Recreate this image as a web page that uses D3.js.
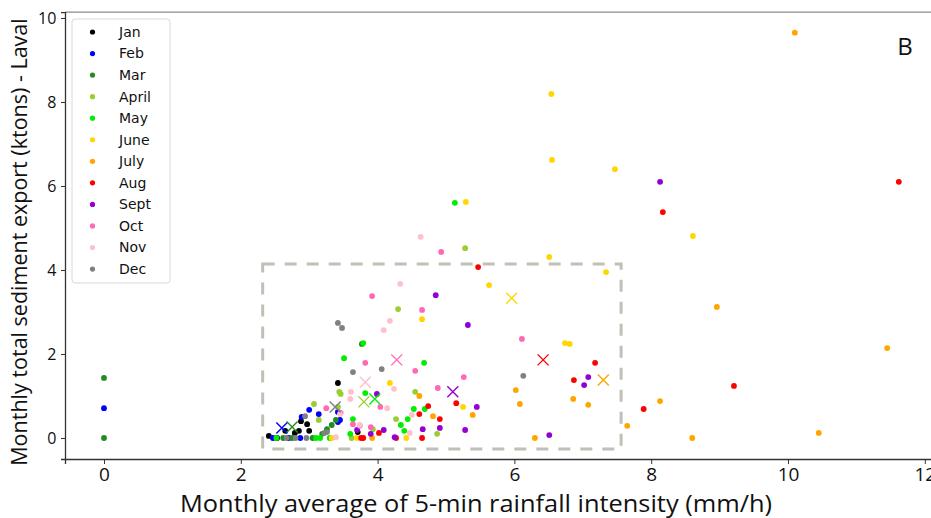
<!DOCTYPE html>
<html><head><meta charset="utf-8">
<script src="https://cdn.jsdelivr.net/npm/d3@7"></script>
<style>body{margin:0;background:#fff;} svg{display:block;}</style>
</head><body>
<svg id="c" width="931" height="518"></svg>
<script>
const months = ["Jan","Feb","Mar","April","May","June","July","Aug","Sept","Oct","Nov","Dec"];
const colors = ["#000000","#0000ff","#228b22","#9acd32","#00ee00","#ffd700","#ffa500","#ff0000","#9400d3","#ff69b4","#ffc0cb","#808080"];
const xTicks = [0,2,4,6,8,10,12];
const yTicks = [0,2,4,6,8,10];

const janPts = [[2.41,0.05],[2.53,0.0],[2.65,0.17],[2.79,0.12],[2.85,0.17],[3.00,0.17],[2.88,0.40],[2.97,0.33],[3.42,1.31],[3.71,0.14]];
const febPts = [[0,0.71],[3.00,0.67],[3.14,0.57],[3.42,0.62],[2.89,0.50],[3.42,0.38],[3.45,0.43],[2.47,0.0],[2.87,0.0],[2.70,0.0]];
const marPts = [[0,1.43],[0,0.0],[3.33,0.31],[3.26,0.21],[3.19,0.10],[3.77,2.24],[2.62,0.0],[2.75,0.0],[3.39,0.43],[3.05,0.0]];
const aprPts = [[3.07,0.81],[3.14,0.43],[3.44,1.10],[3.46,1.05],[3.42,0.74],[4.30,3.07],[4.55,1.10],[4.27,0.45],[4.87,0.10],[5.28,4.52],[3.93,0.21],[3.62,0.0]];
const mayPts = [[3.79,2.26],[3.51,1.90],[4.68,1.79],[3.82,1.07],[4.53,0.69],[4.69,0.69],[3.64,0.45],[4.44,0.45],[4.34,0.31],[4.39,0.17],[3.60,0.10],[5.13,5.60],[2.52,0.0],[3.10,0.0],[3.16,0.0],[3.30,0.0]];
const junPts = [[6.54,8.19],[6.55,6.62],[7.47,6.40],[8.61,4.81],[5.29,5.62],[6.51,4.31],[7.34,3.95],[5.63,3.64],[4.65,2.83],[6.74,2.26],[6.81,2.24],[4.18,1.31],[5.25,0.74],[4.42,0.0],[3.70,0.0],[3.33,0.0]];
const julPts = [[10.10,9.65],[8.96,3.12],[11.45,2.14],[8.13,0.88],[7.65,0.29],[8.60,0.0],[10.45,0.12],[6.02,1.14],[6.08,0.81],[6.86,0.93],[7.08,0.79],[6.30,0.0],[4.61,1.00],[4.81,0.52],[5.39,0.55],[3.92,0.0]];
const augPts = [[11.62,6.10],[8.17,5.38],[9.21,1.24],[7.89,0.69],[7.18,1.79],[6.87,1.38],[5.47,4.07],[5.15,0.83],[4.74,0.76],[4.61,0.57],[4.91,0.45],[4.02,0.12],[3.76,0.0],[3.79,0.0],[4.27,0.0],[4.65,0.0]];
const sepPts = [[8.13,6.10],[4.85,3.40],[5.32,2.69],[7.08,1.45],[7.02,1.26],[5.45,0.74],[4.91,0.24],[4.66,0.21],[5.28,0.19],[6.51,0.07],[3.99,1.05],[3.70,0.19],[3.90,0.10],[4.09,0.19],[4.25,0.02]];
const octPts = [[3.92,3.38],[4.65,3.05],[4.93,4.43],[3.82,1.79],[6.11,2.36],[4.55,1.60],[5.26,1.45],[4.88,1.19],[3.25,0.71],[3.46,0.60],[4.04,0.74],[3.64,0.33],[3.90,0.26],[3.74,0.29]];
const novPts = [[4.33,3.67],[4.63,4.79],[4.18,2.79],[4.09,2.57],[4.24,1.17],[3.61,1.10],[3.60,0.93],[4.14,0.71],[4.50,0.55],[4.47,0.12],[3.39,0.02],[3.45,0.57],[3.74,0.31]];
const decPts = [[3.42,2.74],[3.48,2.62],[3.64,1.57],[4.06,1.64],[6.13,1.48],[2.94,0.52],[3.26,0.14],[3.22,0.12],[2.67,0.0],[2.80,0.0],[2.96,0.0]];
const allPts = [janPts,febPts,marPts,aprPts,mayPts,junPts,julPts,augPts,sepPts,octPts,novPts,decPts];

// monthly means (X markers): [monthIndex, x, y]
const meanPts = [[1,2.60,0.24],[2,2.75,0.26],[11,3.38,0.74],[3,3.80,0.86],[4,3.96,0.93],[10,3.82,1.33],[9,4.28,1.86],[8,5.10,1.10],[5,5.96,3.33],[7,6.42,1.86],[6,7.30,1.38]];

// dashed zoom box (data units)
const boxX = [2.32, 7.56];
const boxY = [-0.26, 4.14];

const svg = d3.select("#c");
const x = d3.scaleLinear().domain([-0.57, 12.3]).range([65, 65 + 68.4 * 12.87]);
const y = d3.scaleLinear().domain([-0.5, 10.14]).range([459, 459 - 42 * 10.64]);

// top spine
svg.append("line").attr("x1", x(-0.57)).attr("x2", 931).attr("y1", y(10.14)).attr("y2", y(10.14)).attr("stroke", "#8a8a8a").attr("stroke-width", 1.2);

const gx = svg.append("g").attr("transform", `translate(0,${y(-0.5)})`)
  .call(d3.axisBottom(x).tickValues(xTicks).tickSize(5).tickFormat(d3.format("d")));
const gy = svg.append("g").attr("transform", `translate(${x(-0.57)},0)`)
  .call(d3.axisLeft(y).tickValues(yTicks).tickSize(4).tickFormat(d3.format("d")));
[gx, gy].forEach(g => {
  g.select(".domain").attr("stroke", "#333").attr("stroke-width", 1.3);
  g.selectAll(".tick line").attr("stroke", "#333");
});
gx.selectAll("text").attr("font-family", "Open Sans").attr("font-size", 19).attr("fill", "#111").attr("dy", "0.72em");
gy.selectAll("text").attr("font-family", "Open Sans").attr("font-size", 16).attr("fill", "#111").attr("dx", "-0.1em");

// dashed box
svg.append("rect")
  .attr("x", x(boxX[0])).attr("y", y(boxY[1]))
  .attr("width", x(boxX[1]) - x(boxX[0])).attr("height", y(boxY[0]) - y(boxY[1]))
  .attr("fill", "none").attr("stroke", "#c0c0b6").attr("stroke-width", 3).attr("stroke-dasharray", "12,10");

// points
allPts.forEach((pts, i) => {
  svg.append("g").selectAll("circle").data(pts).enter().append("circle")
    .attr("cx", d => x(d[0])).attr("cy", d => y(d[1])).attr("r", 2.9)
    .attr("fill", colors[i]);
});

// mean markers
const s = 5.5;
const mg = svg.append("g");
meanPts.forEach(d => {
  const cx = x(d[1]), cy = y(d[2]);
  mg.append("path")
    .attr("d", `M${cx - s},${cy - s}L${cx + s},${cy + s}M${cx - s},${cy + s}L${cx + s},${cy - s}`)
    .attr("stroke", colors[d[0]]).attr("stroke-width", 1.4).attr("fill", "none");
});

// axis labels
svg.append("text").attr("x", 476).attr("y", 512).attr("text-anchor", "middle")
  .attr("font-family", "Open Sans").attr("font-size", 24.5).attr("fill", "#111")
  .attr("textLength", 592).attr("lengthAdjust", "spacingAndGlyphs")
  .text("Monthly average of 5-min rainfall intensity (mm/h)");
svg.append("text").attr("transform", "translate(27,242) rotate(-90)").attr("text-anchor", "middle")
  .attr("font-family", "Open Sans").attr("font-size", 21.5).attr("fill", "#111")
  .text("Monthly total sediment export (ktons) - Laval");

svg.append("text").attr("x", 905).attr("y", 55).attr("text-anchor", "middle")
  .attr("font-family", "Open Sans").attr("font-size", 24).attr("fill", "#111").text("B");

// legend
const lg = svg.append("g");
lg.append("rect").attr("x", 72).attr("y", 19).attr("width", 98).attr("height", 264).attr("rx", 3)
  .attr("fill", "#fff").attr("stroke", "#d8d8d8").attr("stroke-width", 1);
months.forEach((m, i) => {
  const yy = 32 + i * 21.55;
  lg.append("circle").attr("cx", 92.5).attr("cy", yy).attr("r", 2.6).attr("fill", colors[i]);
  lg.append("text").attr("x", 119).attr("y", yy).attr("dy", "0.35em")
    .attr("font-family", "DejaVu Sans").attr("font-size", 14).attr("fill", "#111").text(m);
});
</script>
</body></html>
